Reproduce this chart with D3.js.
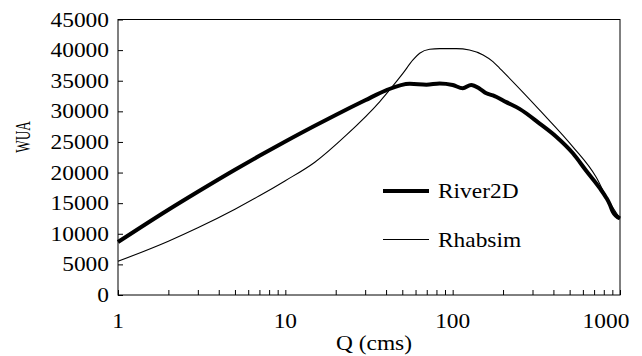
<!DOCTYPE html>
<html>
<head>
<meta charset="utf-8">
<script src="https://cdn.jsdelivr.net/npm/d3@7"></script>
<style>
  body { margin: 0; background: #fff; }
  svg { display: block; }
  text { font-family: "Liberation Serif", "Times New Roman", serif; fill: #000; }
</style>
</head>
<body>
<svg id="chart" width="642" height="356"></svg>
<script>
// River2D (thick line)
const riverQ = [1, 2, 3, 5, 7, 10, 15, 20, 30, 40, 55.4, 69.7, 83.6, 100, 115, 129, 145, 159, 174, 209, 251, 331, 416, 523, 628, 755, 827, 866, 906, 1000];
const riverW = [8650, 13930, 16870, 20470, 22740, 25070, 27640, 29400, 31800, 33440, 34500, 34350, 34550, 34300, 33780, 34300, 33700, 32950, 32600, 31500, 30400, 28000, 25850, 23150, 20300, 17500, 15900, 14900, 13600, 12500];

// Rhabsim (thin line)
const rhabQ = [1, 2, 3, 5, 7, 10, 15, 23.2, 36.7, 42, 50.4, 57.9, 63.5, 72.9, 83.6, 105, 126, 152, 174, 191, 200, 331, 523, 718, 827, 1000];
const rhabW = [5500, 8790, 10980, 14010, 16200, 18670, 21690, 26150, 31600, 33500, 36200, 38400, 39480, 40130, 40240, 40240, 40020, 39200, 38110, 37030, 36480, 30200, 24200, 19300, 16100, 12500];

const yTicks = [0, 5000, 10000, 15000, 20000, 25000, 30000, 35000, 40000, 45000];
const xMajor = [1, 10, 100, 1000];
const xMinor = [2, 3, 4, 5, 6, 7, 8, 9, 20, 30, 40, 50, 60, 70, 80, 90, 200, 300, 400, 500, 600, 700, 800, 900];

const svg = d3.select("#chart");
const plotLeft = 118, plotRight = 620, plotTop = 19.5, plotBottom = 295;
const sx = 1.17; // horizontal stretch of the glyphs

const x = d3.scaleLog().domain([1, 1000]).range([plotLeft, plotRight]);
const y = d3.scaleLinear().domain([0, 45000]).range([plotBottom, plotTop]);

// plot frame
svg.append("rect")
    .attr("x", plotLeft).attr("y", plotTop)
    .attr("width", plotRight - plotLeft).attr("height", plotBottom - plotTop)
    .attr("fill", "none").attr("stroke", "#000").attr("stroke-width", 1);

// y axis ticks (inside)
svg.append("g")
    .attr("transform", `translate(${plotLeft},0)`)
    .call(d3.axisRight(y).tickValues(yTicks).tickSize(5).tickSizeOuter(0).tickFormat(""))
    .call(g => g.select(".domain").remove())
    .selectAll("line").attr("stroke", "#000");

// x axis ticks (inside)
svg.append("g")
    .attr("transform", `translate(0,${plotBottom})`)
    .call(d3.axisTop(x).tickValues(xMajor.concat(xMinor)).tickSize(5).tickSizeOuter(0).tickFormat(""))
    .call(g => g.select(".domain").remove())
    .selectAll("line").attr("stroke", "#000");

// y tick labels
svg.append("g").selectAll("g")
    .data(yTicks)
    .join("g")
    .attr("transform", d => `translate(109,${y(d) + 7}) scale(${sx},1)`)
    .append("text")
    .attr("text-anchor", "end")
    .attr("font-size", 20)
    .text(d => d);

// x tick labels (Excel nudges the last one inside)
svg.append("g").selectAll("g")
    .data(xMajor)
    .join("g")
    .attr("transform", d => `translate(${x(d) + (d === 1000 ? -14 : 0)},328) scale(${sx},1)`)
    .append("text")
    .attr("text-anchor", "middle")
    .attr("font-size", 20)
    .text(d => d);

// axis titles
svg.append("g")
    .attr("transform", `translate(374,350) scale(${sx},1)`)
    .append("text")
    .attr("text-anchor", "middle")
    .attr("font-size", 20)
    .text("Q (cms)");

svg.append("g")
    .attr("transform", "translate(30,137) rotate(-90) scale(0.63,1)")
    .append("text")
    .attr("text-anchor", "middle")
    .attr("font-size", 21)
    .text("WUA");

// series
const line = d3.line()
    .x(d => x(d[0]))
    .y(d => y(d[1]))
    .curve(d3.curveMonotoneX);

const rhab = rhabQ.map((q, i) => [q, rhabW[i]]);
const river = riverQ.map((q, i) => [q, riverW[i]]);

svg.append("path")
    .attr("d", line(rhab))
    .attr("fill", "none")
    .attr("stroke", "#000")
    .attr("stroke-width", 1.1);

svg.append("path")
    .attr("d", line(river))
    .attr("fill", "none")
    .attr("stroke", "#000")
    .attr("stroke-width", 4)
    .attr("stroke-linejoin", "round");

// legend
const legendItems = [
    { name: "River2D", width: 4, y: 191 },
    { name: "Rhabsim", width: 1.1, y: 239.5 }
];
const lg = svg.append("g").selectAll("g")
    .data(legendItems)
    .join("g")
    .attr("transform", d => `translate(383,${d.y})`);
lg.append("line")
    .attr("x1", 0).attr("x2", 46)
    .attr("stroke", "#000")
    .attr("stroke-width", d => d.width);
lg.append("g")
    .attr("transform", `translate(55,7) scale(${sx},1)`)
    .append("text")
    .attr("font-size", 20)
    .text(d => d.name);
</script>
</body>
</html>
